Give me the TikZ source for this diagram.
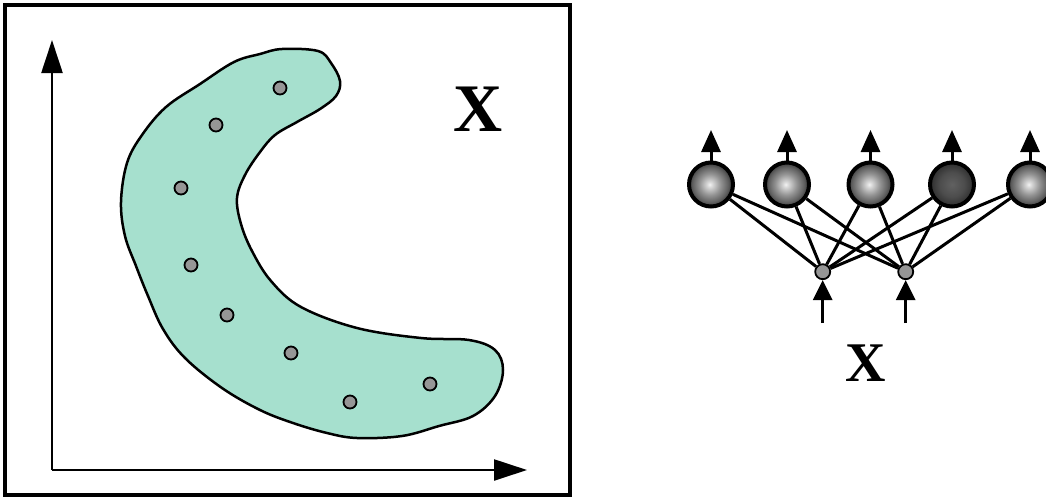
\documentclass[tikz,border=0pt]{standalone}
\usepackage{fontspec}
\setmainfont{Liberation Serif}
\usetikzlibrary{arrows.meta}
\pgfdeclareradialshading{ballshade}{\pgfpoint{-1.5bp}{0bp}}{color(0bp)=(white!95!black); color(3bp)=(white!85!black); color(12bp)=(black!42); color(20bp)=(black!62); color(25bp)=(black!78); color(50bp)=(black!78)}
\pgfdeclareradialshading{darkshade}{\pgfpoint{0bp}{0bp}}{color(0bp)=(black!62); color(14bp)=(black!70); color(25bp)=(black!82); color(50bp)=(black!82)}
\definecolor{blobfill}{RGB}{166,224,206}
\definecolor{dotgray}{RGB}{150,150,150}
\tikzset{
  frame/.style={line width=3.5pt},
  axis/.style={line width=2.3pt,-{Triangle[length=33pt,width=21pt]}},
  blob/.style={draw=black,line width=2.5pt,fill=blobfill},
  datadot/.style={circle,draw=black,line width=1.8pt,fill=dotgray,minimum size=13pt,inner sep=0pt},
  ball/.style={circle,draw=black,line width=4pt,minimum size=44pt,inner sep=0pt,shade,shading=ballshade},
  darkball/.style={ball,shading=darkshade},
  inp/.style={circle,draw=black,line width=1.8pt,fill=dotgray,minimum size=15pt,inner sep=0pt},
  conn/.style={line width=3pt},
  outarrow/.style={line width=3pt,-{Triangle[length=22pt,width=19pt]}},
  inarrow/.style={line width=3pt,-{Triangle[length=20pt,width=19pt]}},
  biglabel/.style={inner sep=0pt,font=\bfseries}
}
\begin{document}
\begin{tikzpicture}[x=1pt,y=-1pt]
\useasboundingbox (0,0) rectangle (1046,498);
% left panel
\draw[frame] (5,5) rectangle (570,495);
\draw[blob] plot[smooth cycle,tension=0.6] coordinates {
 (282,49) (318,51) (331,63) (340,81) (336,96) (320,109) (297,122) (275,135)
 (260,152) (245,175) (237,198) (241,224) (252,251) (271,281) (301,307)
 (357,328) (421,338) (469,340) (495,350) (503,370) (495,396) (473,416)
 (439,426) (402,436) (357,438) (327,433) (293,423) (260,410) (222,388)
 (185,358) (163,329) (148,296) (136,266) (125,236) (121,202) (127,163)
 (142,135) (166,107) (200,84) (234,62) (260,54)};
\coordinate (origin) at (52,470);
\coordinate (ytip) at (52,40);
\coordinate (xtip) at (527,470);
\draw[axis] (origin) -- (ytip);
\draw[axis] (origin) -- (xtip);
\node[datadot] (d1) at (280,88) {};
\node[datadot] (d2) at (216,125) {};
\node[datadot] (d3) at (181,188) {};
\node[datadot] (d4) at (191,265) {};
\node[datadot] (d5) at (227,315) {};
\node[datadot] (d6) at (291,353) {};
\node[datadot] (d7) at (350,402) {};
\node[datadot] (d8) at (430,384) {};
\node[biglabel] (xl) at (478,109) {\fontsize{68}{68}\selectfont X};
% right panel
\node[ball] (o1) at (711,184.5) {};
\node[ball] (o2) at (787,184.5) {};
\node[ball] (o3) at (870.5,184.5) {};
\node[darkball] (o4) at (952,184.5) {};
\node[ball] (o5) at (1030,184.5) {};
\node[inp] (i1) at (822.7,271.7) {};
\node[inp] (i2) at (905.7,271.7) {};
\foreach \i in {1,2}{\foreach \o in {1,...,5}{\draw[conn] (i\i) -- (o\o);}}
\foreach \o/\x in {1/711,2/787,3/870.5,4/952,5/1030}{
  \coordinate (t\o) at (\x,130);
  \draw[outarrow] (o\o) -- (t\o);}
\coordinate (b1) at (822.7,323);
\coordinate (b2) at (905.7,323);
\draw[inarrow] (b1) -- (i1);
\draw[inarrow] (b2) -- (i2);
\node[biglabel] (xr) at (866,363) {\fontsize{56}{56}\selectfont X};
\end{tikzpicture}
\end{document}
